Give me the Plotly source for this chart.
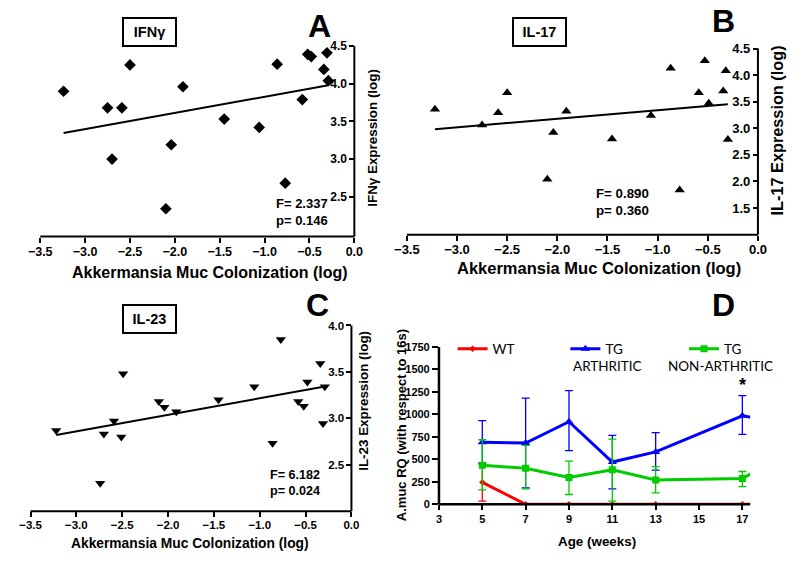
import numpy as np
import plotly.graph_objects as go

# ---------------- data ----------------
# Panel A (IFNγ)
a_x = [-3.24, -2.75, -2.70, -2.59, -2.50, -2.10, -2.04, -1.91, -1.45, -1.06,
       -0.86, -0.77, -0.58, -0.52, -0.48, -0.34, -0.305, -0.29]
a_y = [3.90, 3.68, 3.00, 3.68, 4.25, 2.34, 3.19, 3.96, 3.53, 3.42,
       4.26, 2.68, 3.79, 4.39, 4.36, 4.19, 4.41, 4.04]
# Panel B (IL-17)
b_x = [-3.22, -2.75, -2.59, -2.50, -2.10, -2.04, -1.91, -1.455, -1.067,
       -0.87, -0.78, -0.59, -0.53, -0.49, -0.346, -0.32, -0.30]
b_y = [3.36, 3.06, 3.29, 3.67, 2.04, 2.92, 3.32, 2.80, 3.24,
       4.13, 1.84, 3.67, 4.27, 3.47, 3.70, 4.08, 2.79]
# Panel C (IL-23)
c_x = [-3.22, -2.74, -2.70, -2.59, -2.51, -2.49, -2.10, -2.04, -1.91, -1.45,
       -1.06, -0.86, -0.77, -0.58, -0.52, -0.48, -0.34, -0.31, -0.29]
c_y = [2.87, 2.30, 2.83, 2.97, 2.80, 3.48, 3.18, 3.12, 3.07, 3.20,
       3.34, 2.73, 3.85, 3.18, 3.13, 3.39, 3.59, 2.945, 3.34]

a_stats = ["F= 2.337", "p= 0.146"]
b_stats = ["F= 0.890", "p= 0.360"]
c_stats = ["F= 6.182", "p= 0.024"]

# Panel D (A.muc RQ over age)
age = [5, 7, 9, 11, 13, 17, 19]
wt_mean = [244, 0, 0, 0, 0, 0, 0]
wt_hi = [463, 0, 0, 0, 0, 0, 0]
wt_lo = [36, 0, 0, 0, 0, 0, 0]
arth_mean = [689, 682, 919, 470, 583, 984, 900]
arth_hi = [930, 1181, 1265, 766, 798, 1210, 900]
arth_lo = [450, 182, 598, 171, 379, 777, 900]
non_mean = [434, 401, 299, 383, 270, 288, 550]
non_hi = [718, 656, 481, 726, 419, 365, 550]
non_lo = [160, 171, 109, 36, 128, 197, 550]

x_ticks = [-3.5, -3.0, -2.5, -2.0, -1.5, -1.0, -0.5, 0.0]
a_yticks = [2.5, 3.0, 3.5, 4.0, 4.5]
b_yticks = [1.5, 2.0, 2.5, 3.0, 3.5, 4.0, 4.5]
c_yticks = [2.5, 3.0, 3.5, 4.0]
d_xticks = [3, 5, 7, 9, 11, 13, 15, 17]
d_yticks = [0, 250, 500, 750, 1000, 1250, 1500, 1750]

# ---------------- figure ----------------
W, H = 800, 565
FONT = "Arial, 'Liberation Sans', sans-serif"
fig = go.Figure()


def px_x(p):
    return p / W


def px_y(p):
    return 1 - p / H


def scatter_panel(n, xs, ys, symbol, size):
    xa = "x" if n == 1 else f"x{n}"
    ya = "y" if n == 1 else f"y{n}"
    fig.add_trace(go.Scatter(x=xs, y=ys, mode="markers", xaxis=xa, yaxis=ya,
                             marker=dict(symbol=symbol, size=size, color="black"),
                             showlegend=False))
    k, b = np.polyfit(xs, ys, 1)
    lx = np.array([min(xs), max(xs)])
    fig.add_trace(go.Scatter(x=lx, y=k * lx + b, mode="lines", xaxis=xa, yaxis=ya,
                             line=dict(color="black", width=2), showlegend=False))


scatter_panel(1, a_x, a_y, "diamond", 9)
scatter_panel(2, b_x, b_y, "triangle-up", 9)
scatter_panel(3, c_x, c_y, "triangle-down", 9)


def err(mean, hi, lo):
    return [h - m for h, m in zip(hi, mean)], [m - l for m, l in zip(mean, lo)]


for name, mean, hi, lo, color, sym, msize, lg in [
    ("WT", wt_mean, wt_hi, wt_lo, "#ff0000", "diamond", 5, "legend"),
    ("TG", arth_mean, arth_hi, arth_lo, "#0000ff", "triangle-up", 8, "legend2"),
    ("TG", non_mean, non_hi, non_lo, "#00cc00", "square", 7, "legend3"),
]:
    up, down = err(mean, hi, lo)
    fig.add_trace(go.Scatter(
        x=age, y=mean, mode="lines+markers", name=name, xaxis="x4", yaxis="y4",
        line=dict(color=color, width=3), marker=dict(symbol=sym, size=msize, color=color),
        error_y=dict(type="data", array=up, arrayminus=down, color=color,
                     thickness=1.3, width=4),
        legend=lg, showlegend=True))


def tfont(size):
    return dict(family=FONT, size=size, color="black", weight="bold")


def xaxis_def(dom, anchor, tick_size):
    return dict(domain=dom, anchor=anchor, range=[-3.5, 0], tickvals=x_ticks,
                tickformat=".1f", showline=False, ticks="outside", ticklen=5,
                tickwidth=2, tickcolor="black", tickfont=tfont(tick_size),
                ticklabelstandoff=-2, showgrid=False, zeroline=False)


def yaxis_def(dom, pos, rng, tv, tick_size):
    return dict(domain=dom, anchor="free", position=pos, side="left", range=rng,
                tickvals=tv, tickformat=".1f", ticks="outside", ticklen=5,
                tickwidth=2, tickcolor="black", showline=False,
                tickfont=tfont(tick_size), showgrid=False, zeroline=False)


fig.update_layout(
    width=W, height=H, margin=dict(l=0, r=0, t=0, b=0),
    paper_bgcolor="white", plot_bgcolor="white",
    font=dict(family=FONT, color="black"),
    xaxis=xaxis_def([px_x(28), px_x(351)], "y", 12.5),
    yaxis=yaxis_def([px_y(235), px_y(40)], px_x(351), [1.97, 4.5], a_yticks, 12),
    xaxis2=xaxis_def([px_x(405), px_x(766)], "y2", 13),
    yaxis2=yaxis_def([px_y(233), px_y(42.5)], px_x(766), [1.0, 4.5], b_yticks, 13),
    xaxis3=xaxis_def([px_x(18), px_x(348)], "y3", 11.5),
    yaxis3=yaxis_def([px_y(516), px_y(326)], px_x(348), [2.0, 4.0], c_yticks, 11.5),
    xaxis4=dict(domain=[px_x(438), px_x(758)], anchor="y4", range=[3, 17.36],
                tickvals=d_xticks, showline=False, ticks="outside", ticklen=5,
                tickwidth=2, tickcolor="black", tickfont=tfont(11),
                showgrid=False, zeroline=False),
    yaxis4=dict(domain=[px_y(509), px_y(348)], anchor="x4", range=[0, 1750],
                tickvals=d_yticks, showline=False, ticks="outside", ticklen=6,
                tickwidth=2, tickcolor="black", tickfont=tfont(11),
                showgrid=False, zeroline=False),
    legend=dict(x=px_x(452), y=px_y(350), xanchor="left", yanchor="middle",
                bgcolor="rgba(0,0,0,0)", font=dict(family="Lato", size=13.5, color="black")),
    legend2=dict(x=px_x(568), y=px_y(350), xanchor="left", yanchor="middle",
                 bgcolor="rgba(0,0,0,0)", font=dict(family="Lato", size=13.5, color="black")),
    legend3=dict(x=px_x(690), y=px_y(350), xanchor="left", yanchor="middle",
                 bgcolor="rgba(0,0,0,0)", font=dict(family="Lato", size=13.5, color="black")),
)

# axis lines (GraphPad style: bottom x-axis, y-axis at x = 0 on the right for A-C)
shapes = []
for xs, ys, right in [("x", "y", True), ("x2", "y2", True), ("x3", "y3", True), ("x4", "y4", False)]:
    lw = 2 if right else 2.5
    shapes.append(dict(type="line", xref=f"{xs} domain", yref=f"{ys} domain",
                       x0=0, x1=1, y0=0, y1=0, line=dict(color="black", width=lw)))
    xv = 1 if right else 0
    shapes.append(dict(type="line", xref=f"{xs} domain", yref=f"{ys} domain",
                       x0=xv, x1=xv, y0=0, y1=1, line=dict(color="black", width=lw)))
fig.update_layout(shapes=shapes)

ann = []


def add_text(text, cx, cy, size, bold=True, angle=0, family=FONT, **kw):
    f = dict(family=family, size=size, color="black")
    if bold:
        f["weight"] = "bold"
    d = dict(text=text, x=px_x(cx), y=px_y(cy), xref="paper", yref="paper",
             showarrow=False, xanchor="center", yanchor="middle", textangle=angle, font=f)
    d.update(kw)
    ann.append(d)


# panel letters
for letter, cx, cy in [("A", 315, 19), ("B", 731, 14), ("C", 313, 305), ("D", 731, 305)]:
    add_text(letter, cx, cy, 32)
# boxed titles
for label, cx, cy in [("IFNγ", 140, 26), ("IL-17", 541, 26), ("IL-23", 140, 319)]:
    add_text(label, cx, cy, 14.5, width=47, height=22, borderpad=2,
             bordercolor="black", borderwidth=2, bgcolor="white")
# axis titles
xtitle = "Akkermansia Muc Colonization (log)"
add_text(xtitle, 203, 272, 16)
add_text(xtitle, 603, 267, 16.5)
add_text(xtitle, 182, 549, 13.8)
add_text("IFNγ Expression (log)", 370, 134, 13.4, angle=-90)
add_text("IL-17 Expression (log)", 786, 126, 16.3, angle=-90)
add_text("IL-23 Expression (log)", 361, 403, 13.4, angle=-90)
add_text("A.muc RQ (with respect to 16s)", 399, 428, 13, angle=-90)
add_text("Age (weeks)", 601, 547, 13.4)
# stats
for stats, lx, cy, fs in [(a_stats, 268, 210, 13), (b_stats, 597, 200, 13.3), (c_stats, 262, 487, 12.6)]:
    ann.append(dict(text="<br>".join(stats), x=px_x(lx), y=px_y(cy), xref="paper",
                    yref="paper", showarrow=False, xanchor="left", yanchor="middle",
                    align="left", font=tfont(fs)))
# second lines of legend labels
add_text("ARTHRITIC", 611, 367, 13.5, bold=False, family="Lato")
add_text("NON-ARTHRITIC", 727, 367, 13.5, bold=False, family="Lato")
# significance star
ann.append(dict(text="*", x=17, y=1330, xref="x4", yref="y4", showarrow=False,
                xanchor="center", yanchor="middle", font=tfont(18)))
fig.update_layout(annotations=ann)

fig.write_html("out.html", config={"displayModeBar": False},
               post_script="document.body.style.margin='0';")
